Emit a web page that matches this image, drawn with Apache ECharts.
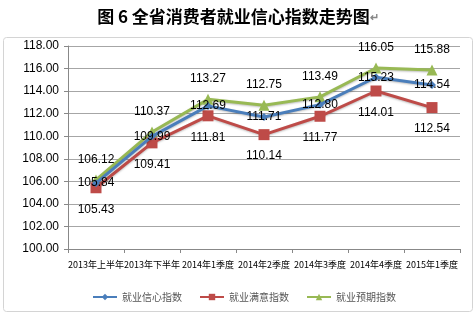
<!DOCTYPE html>
<html><head><meta charset="utf-8">
<script src="https://cdn.jsdelivr.net/npm/echarts@6/dist/echarts.min.js"></script>
<style>html,body{margin:0;padding:0;background:#fff}#c{width:476px;height:316px}</style>
</head><body><div id="c"></div>
<script>
const categories = ['2013年上半年','2013年下半年','2014年1季度','2014年2季度','2014年3季度','2014年4季度','2015年1季度'];
const confidence = [105.84, 109.99, 112.69, 111.71, 112.80, 115.23, 114.54];
const satisfaction = [105.43, 109.41, 111.81, 110.14, 111.77, 114.01, 112.54];
const expectation = [106.12, 110.37, 113.27, 112.75, 113.49, 116.05, 115.88];
const seriesNames = ['就业信心指数','就业满意指数','就业预期指数'];
const yTicks = [100,102,104,106,108,110,112,114,116,118];

const chart = echarts.init(document.getElementById('c'));
const lblFont = {fontFamily:'Liberation Sans, Arial, sans-serif', fontSize:12, color:'#000'};
chart.setOption({
  animation:false,
  title:{text:'图 6 全省消费者就业信心指数走势图{a|↵}', left:'center', top:3,
    textStyle:{fontFamily:'Noto Sans CJK SC', fontWeight:'bold', fontSize:17, color:'#000',
      rich:{a:{fontSize:11, color:'#888'}}}},
  graphic:[{type:'rect', shape:{x:3.5,y:37.5,width:469,height:274,r:3}, style:{fill:'none',stroke:'#d4d4d4',lineWidth:1}, z:-1}],
  grid:{left:68, right:16, top:46, bottom:67},
  legend:{bottom:9, left:87, itemGap:17, itemWidth:24, itemHeight:8,
    textStyle:{fontFamily:'Noto Sans CJK SC', fontSize:10, color:'#555'},
    data:seriesNames},
  xAxis:{type:'category', data:categories, boundaryGap:true,
    axisLine:{lineStyle:{color:'#888'}}, axisTick:{show:true, length:4, lineStyle:{color:'#888'}},
    axisLabel:{interval:0, fontSize:9, color:'#000', margin:11, fontFamily:'Noto Sans CJK SC'}},
  yAxis:{type:'value', min:yTicks[0], max:yTicks[yTicks.length-1], interval:2,
    axisLine:{show:true, lineStyle:{color:'#888'}}, axisTick:{show:true, length:4, inside:false, lineStyle:{color:'#888'}},
    splitLine:{lineStyle:{color:'#a6a6a6', width:1}},
    axisLabel:{formatter:v=>v.toFixed(2), fontSize:12, color:'#000', margin:9, fontFamily:'Liberation Sans, Arial, sans-serif'}},
  series:[
    {name:seriesNames[0], type:'line', data:confidence, color:'#4A7EBB', symbol:'diamond', symbolSize:8,
      lineStyle:{width:3, shadowColor:'rgba(0,0,0,0.25)', shadowBlur:2, shadowOffsetY:1}, z:3,
      label:{show:true, position:'inside', formatter:p=>p.value.toFixed(2), ...lblFont}},
    {name:seriesNames[1], type:'line', data:satisfaction, color:'#BE4B48', symbol:'rect', symbolSize:11,
      lineStyle:{width:3, shadowColor:'rgba(0,0,0,0.25)', shadowBlur:2, shadowOffsetY:1}, z:2,
      label:{show:true, position:'bottom', distance:10, formatter:p=>p.value.toFixed(2), ...lblFont}},
    {name:seriesNames[2], type:'line', data:expectation, color:'#98B954', symbol:'triangle', symbolSize:11,
      lineStyle:{width:3, shadowColor:'rgba(0,0,0,0.25)', shadowBlur:2, shadowOffsetY:1}, z:1,
      label:{show:true, position:'top', distance:9, formatter:p=>p.value.toFixed(2), ...lblFont}}
  ]
});
</script></body></html>
